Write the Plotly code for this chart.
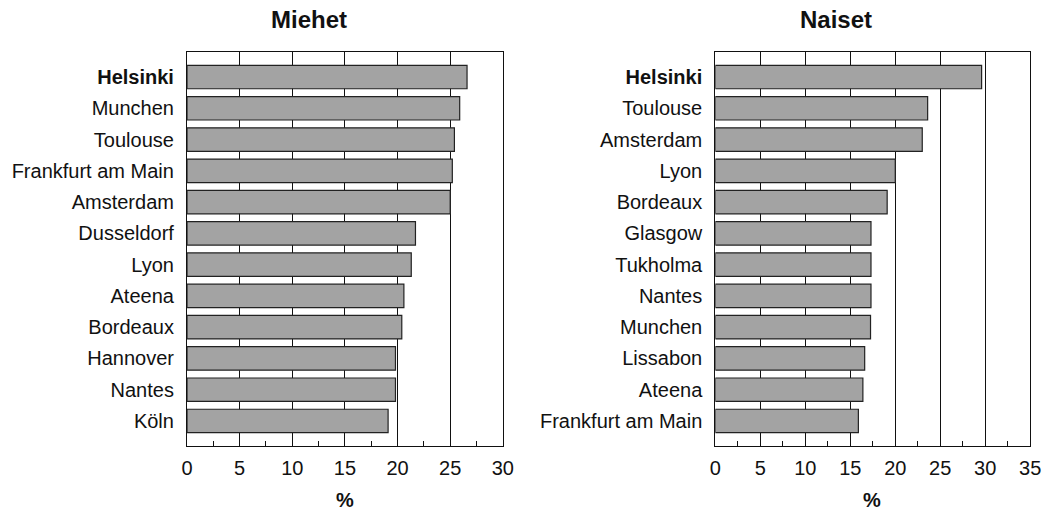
import plotly.graph_objects as go

men_cities = ["Helsinki", "Munchen", "Toulouse", "Frankfurt am Main", "Amsterdam",
              "Dusseldorf", "Lyon", "Ateena", "Bordeaux", "Hannover", "Nantes", "Köln"]
men_values = [26.6, 25.9, 25.4, 25.2, 25.0, 21.7, 21.3, 20.6, 20.4, 19.8, 19.8, 19.1]

women_cities = ["Helsinki", "Toulouse", "Amsterdam", "Lyon", "Bordeaux", "Glasgow",
                "Tukholma", "Nantes", "Munchen", "Lissabon", "Ateena", "Frankfurt am Main"]
women_values = [29.6, 23.6, 23.0, 20.0, 19.1, 17.3, 17.3, 17.3, 17.25, 16.6, 16.4, 15.9]

men_ticks = [0, 5, 10, 15, 20, 25, 30]
women_ticks = [0, 5, 10, 15, 20, 25, 30, 35]

FONT = "Liberation Sans, Arial, sans-serif"
BAR = "#a3a3a3"


def labels(cities):
    return ["<b>%s</b>" % c if c == "Helsinki" else c for c in cities]


fig = go.Figure()
fig.add_trace(go.Bar(x=men_values, y=men_cities, orientation="h",
                     marker=dict(color=BAR, line=dict(color="#222222", width=1.2)),
                     width=0.75, xaxis="x", yaxis="y", showlegend=False))
fig.add_trace(go.Bar(x=women_values, y=women_cities, orientation="h",
                     marker=dict(color=BAR, line=dict(color="#222222", width=1.2)),
                     width=0.75, xaxis="x2", yaxis="y2", showlegend=False))

W, H = 1053, 511
def px(v): return v / W
def py(v): return 1 - v / H

xcommon = dict(showgrid=True, gridcolor="#111111", gridwidth=1.2,
               showline=True, linecolor="#111111", linewidth=1.2, mirror=True,
               ticks="inside", ticklen=5, tickcolor="#111111",
               minor=dict(dtick=2.5, ticks="inside", ticklen=5, tickcolor="#111111", showgrid=False),
               tickfont=dict(family=FONT, size=20, color="#111111"),
               ticklabelstandoff=4, zeroline=False, fixedrange=True)
ycommon = dict(showgrid=False, showline=True, linecolor="#111111", linewidth=1.2, mirror=True,
               ticks="", tickfont=dict(family=FONT, size=20, color="#111111"),
               ticklabelstandoff=8, range=[11.8, -0.8], fixedrange=True)

ann = dict(xref="paper", yref="paper", showarrow=False, xanchor="center", yanchor="middle")

fig.update_layout(
    width=W, height=H,
    margin=dict(l=0, r=0, t=0, b=0),
    paper_bgcolor="white", plot_bgcolor="white",
    bargap=0.25,
    xaxis=dict(domain=[px(184), px(505)], range=[0, 30], tickvals=men_ticks, anchor="y", **xcommon),
    yaxis=dict(domain=[py(446), py(52)], anchor="x", tickvals=men_cities,
               ticktext=labels(men_cities), **ycommon),
    xaxis2=dict(domain=[px(721), px(1041)], range=[0, 35], tickvals=women_ticks, anchor="y2", **xcommon),
    yaxis2=dict(domain=[py(446), py(52)], anchor="x2", tickvals=women_cities,
                ticktext=labels(women_cities), **ycommon),
    font=dict(family=FONT, color="#111111"),
    annotations=[
        dict(text="<b>Miehet</b>", x=px(308), y=py(19), font=dict(size=24, family=FONT), **ann),
        dict(text="<b>Naiset</b>", x=px(844), y=py(19), font=dict(size=24, family=FONT), **ann),
        dict(text="<b>%</b>", x=px(345), y=py(500), font=dict(size=20, family=FONT), **ann),
        dict(text="<b>%</b>", x=px(880), y=py(500), font=dict(size=20, family=FONT), **ann),
    ],
)

fig.write_html("out.html", config={"displayModeBar": False},
               post_script="document.body.style.margin='0';document.body.style.overflow='hidden';")
